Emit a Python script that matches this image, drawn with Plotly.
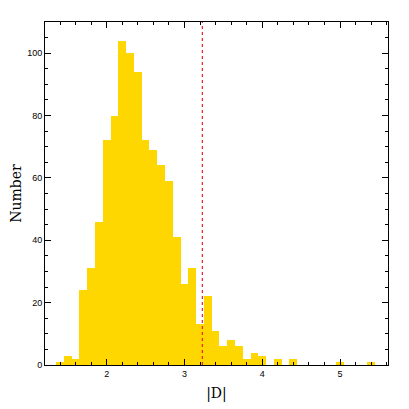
import plotly.graph_objects as go

# histogram of |D|, bin width 0.1, bin centres 1.4 .. 5.4
bin_centres = [round(1.4 + 0.1 * i, 1) for i in range(41)]
counts = [1, 3, 2, 24, 31, 46, 72, 80, 104, 100,
          94, 72, 69, 64, 59, 41, 26, 31, 13, 22,
          11, 6, 8, 6, 2, 4, 3, 0, 2, 0,
          2, 0, 0, 0, 0, 0, 1, 0, 0, 0,
          1]
threshold = 3.23

x_ticks = [2, 3, 4, 5]
y_ticks = [0, 20, 40, 60, 80, 100]

fig = go.Figure()
fig.add_trace(go.Bar(
    x=bin_centres, y=counts, width=0.1,
    marker=dict(color="#FFD700", line=dict(width=0)),
    showlegend=False,
))

# dotted marker line, drawn as a trace so it keeps its colour
fig.add_trace(go.Scatter(
    x=[threshold, threshold], y=[0, 110], mode="lines",
    line=dict(color="rgb(235,30,40)", width=1.2, dash="dot"),
    showlegend=False, hoverinfo="skip",
))

axis_common = dict(
    showline=True, linecolor="black", linewidth=1, mirror="ticks",
    ticks="inside", ticklen=6, tickcolor="black", tickwidth=1,
    showgrid=False, zeroline=False, automargin=False,
    tickfont=dict(family="Liberation Sans", size=9, color="black"),
)

fig.update_xaxes(
    range=[1.207, 5.617], tickvals=x_ticks,
    minor=dict(dtick=0.2, tick0=0, ticks="inside", ticklen=3, tickcolor="black"),
    title=dict(text="|D|", font=dict(family="DejaVu Serif", size=14, color="black"), standoff=10),
    **axis_common,
)
fig.update_yaxes(
    range=[0, 110], tickvals=y_ticks,
    minor=dict(dtick=5, tick0=0, ticks="inside", ticklen=3, tickcolor="black"),
    title=dict(text="Number", font=dict(family="DejaVu Serif", size=14, color="black"), standoff=2),
    **axis_common,
)

# page body has an 8px margin, so the figure is shrunk and shifted to compensate
fig.update_layout(
    width=401, height=401,
    margin=dict(l=37, r=21, t=14, b=44),
    paper_bgcolor="white", plot_bgcolor="white",
    bargap=0,
)

fig.write_html("out.html")
